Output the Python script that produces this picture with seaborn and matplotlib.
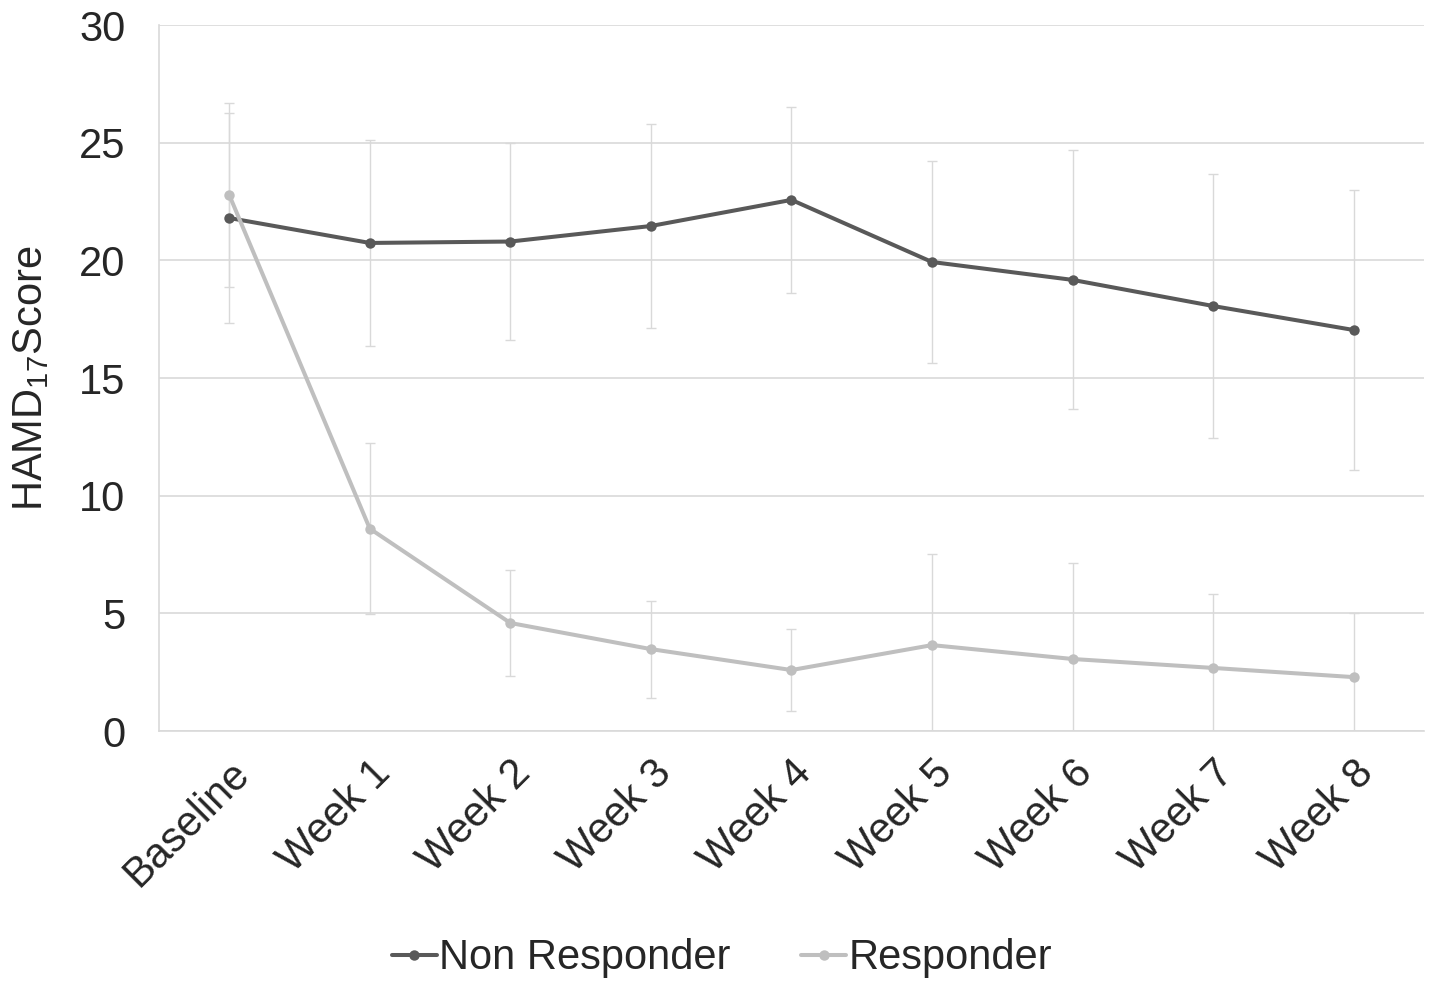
import matplotlib
matplotlib.use("Agg")
import matplotlib.pyplot as plt
import seaborn as sns
import pandas as pd
import numpy as np

weeks = ["Baseline", "Week 1", "Week 2", "Week 3", "Week 4", "Week 5", "Week 6", "Week 7", "Week 8"]
non_responder = [21.8, 20.74, 20.8, 21.46, 22.57, 19.93, 19.17, 18.06, 17.04]
non_responder_sd = [4.45, 4.37, 4.2, 4.35, 3.95, 4.3, 5.5, 5.6, 5.95]
responder = [22.78, 8.6, 4.59, 3.48, 2.59, 3.65, 3.06, 2.68, 2.29]
responder_sd = [3.9, 3.62, 2.27, 2.06, 1.76, 3.87, 4.1, 3.14, 2.72]
series_names = ["Non Responder", "Responder"]

sns.set_theme(style="white")
plt.rcParams["font.family"] = ["Liberation Sans", "DejaVu Sans"]
plt.rcParams["mathtext.fontset"] = "custom"
plt.rcParams["mathtext.rm"] = "Liberation Sans"
plt.rcParams["mathtext.it"] = "Liberation Sans:italic"
plt.rcParams["mathtext.bf"] = "Liberation Sans:bold"

df = pd.DataFrame({
    "Week": weeks * 2,
    "Score": non_responder + responder,
    "Group": [series_names[0]] * len(weeks) + [series_names[1]] * len(weeks),
})

colors = {"Non Responder": "#595959", "Responder": "#BFBFBF"}
err_color = "#D9D9D9"
txt = "#262626"
fs = 30

fig = plt.figure(figsize=(14.32, 9.82), dpi=100)
ax = fig.add_axes([0.111, 0.2556, 0.8834, 0.7189])

x = np.arange(len(weeks))
ax.errorbar(x, non_responder, yerr=non_responder_sd, fmt="none", ecolor=err_color,
            elinewidth=1.0, capsize=3.6, capthick=1.0, zorder=1)
ax.errorbar(x, responder, yerr=responder_sd, fmt="none", ecolor=err_color,
            elinewidth=1.0, capsize=3.6, capthick=1.0, zorder=1)

sns.lineplot(data=df, x="Week", y="Score", hue="Group", palette=colors,
             marker="o", markersize=7.5, markeredgewidth=0, linewidth=2.9,
             sort=False, ax=ax, zorder=3)

ax.set_xlim(-0.5, len(weeks) - 0.5)
ax.set_ylim(0, 30)
ax.set_yticks([0, 5, 10, 15, 20, 25, 30])
ax.grid(axis="y", color="#D9D9D9", linewidth=1.2)
ax.grid(axis="x", visible=False)
for s in ["top", "right"]:
    ax.spines[s].set_visible(False)
for s in ["left", "bottom"]:
    ax.spines[s].set_color("#D9D9D9")
    ax.spines[s].set_linewidth(1.2)
ax.tick_params(axis="both", length=0, labelsize=fs, colors=txt)
ax.tick_params(axis="y", pad=24)
ax.tick_params(axis="x", pad=16)
ax.set_xticks(x)
ax.set_xticklabels(weeks, rotation=45, ha="right", rotation_mode="anchor")
ax.set_xlabel("")
ax.set_ylabel("HAMD$_{17}$Score", fontsize=fs, color=txt, labelpad=20)

handles, labels = ax.get_legend_handles_labels()
ax.get_legend().remove()
fig.legend(handles, labels, loc="center", bbox_to_anchor=(0.504, 0.024),
           ncol=2, frameon=False, fontsize=fs, handlelength=1.08, handletextpad=0.05,
           columnspacing=1.7, labelcolor=txt, borderaxespad=0)

fig.savefig("out.png", dpi=100, facecolor="white")
